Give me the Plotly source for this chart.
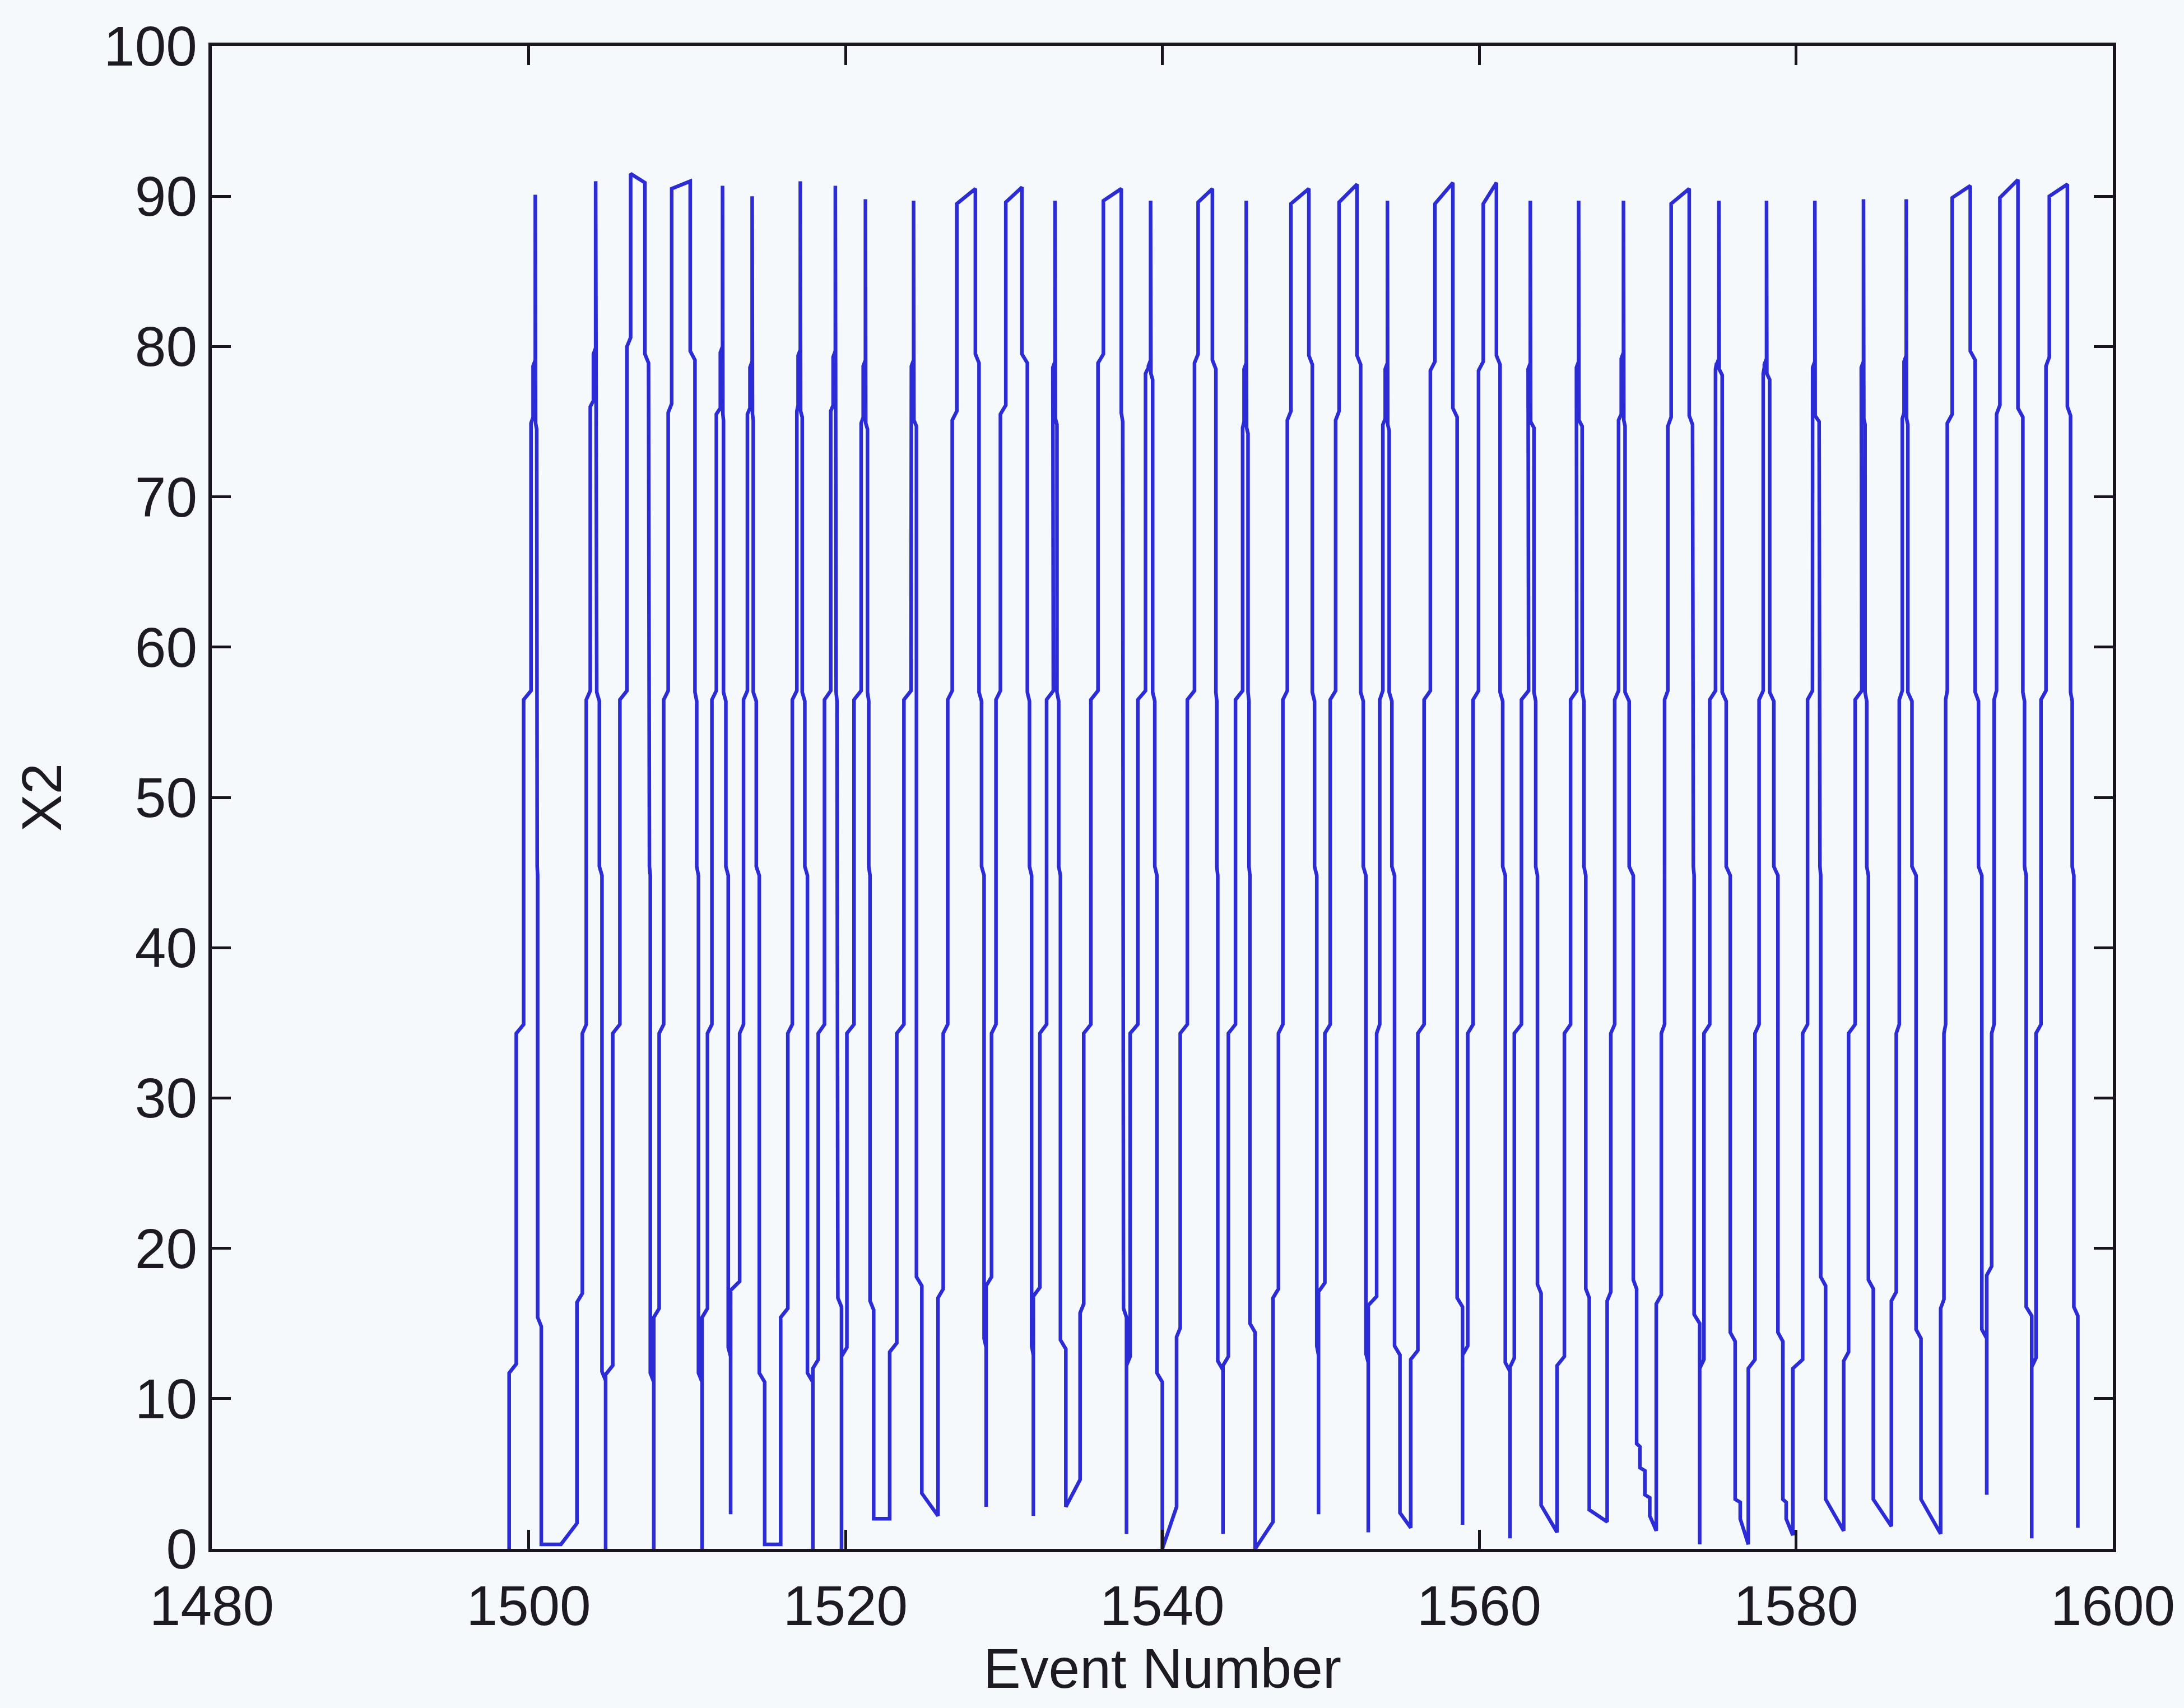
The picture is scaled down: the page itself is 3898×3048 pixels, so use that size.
import plotly.graph_objects as go

# ---------------- data ----------------
# pulse type: S = narrow spike, F = flat-top pulse
kind = ['S', 'S', 'F', 'F', 'S', 'S', 'S', 'S', 'S', 'S', 'F', 'F', 'S', 'F', 'S', 'F', 'S',
        'F', 'F', 'S', 'F', 'F', 'S', 'S', 'S', 'F', 'S', 'S', 'S', 'S', 'S', 'F', 'F', 'F']

# rising edge: level of first step and x of the segment above it
rise_jog = [11.7, 16.4, 11.6, 15.4, 15.4, 17.2, 15.4, 12.0, 12.8, 13.1, 16.7, 17.5, 16.8, 15.7, 12.2, 14.1, 12.2,
            16.7, 17.1, 16.2, 12.6, 12.9, 12.1, 12.2, 16.5, 16.3, 12.0, 12.0, 12.0, 12.5, 16.5, 16.0, 18.2, 12.1]
rise_b = [1499.22, 1503.39, 1505.31, 1508.24, 1511.29, 1513.32, 1516.36, 1518.28, 1520.09, 1523.24, 1526.17,
          1529.22, 1532.27, 1535.04, 1537.97, 1541.13, 1544.17, 1547.33, 1550.26, 1553.53, 1556.13, 1559.28,
          1562.22, 1565.38, 1568.31, 1571.50, 1574.19, 1577.41, 1580.42, 1583.32, 1586.33, 1589.34, 1592.35, 1595.15]
# x of the upper rising segment (57 -> ~75)
rise_hi = [1500.15, 1503.89, 1506.21, 1508.81, 1511.85, 1513.81, 1516.93, 1519.07, 1520.99, 1524.14, 1526.74,
           1529.78, 1533.12, 1535.94, 1538.94, 1542.03, 1545.07, 1547.89, 1550.94, 1553.92, 1556.92, 1559.96,
           1563.12, 1566.16, 1568.80, 1571.91, 1574.92, 1577.93, 1581.04, 1584.15, 1586.71, 1589.55, 1592.66, 1595.78]
# top of pulse: left/right x and values
top_l = [1500.42, 1504.23, 1506.44, 1509.03, 1512.24, 1514.11, 1517.15, 1519.36, 1521.26, 1524.30, 1527.03,
         1530.12, 1533.23, 1536.28, 1539.26, 1542.26, 1545.30, 1548.12, 1551.16, 1554.21, 1557.21, 1560.26,
         1563.23, 1566.28, 1569.11, 1572.12, 1575.13, 1578.14, 1581.19, 1584.26, 1586.96, 1589.86, 1592.87, 1595.99]
top_r = [1500.42, 1504.23, 1507.34, 1510.20, 1512.24, 1514.11, 1517.15, 1519.36, 1521.26, 1524.30, 1528.20,
         1531.14, 1533.23, 1537.41, 1539.26, 1543.16, 1545.30, 1549.25, 1552.29, 1554.21, 1558.34, 1561.09,
         1563.23, 1566.28, 1569.11, 1573.26, 1575.13, 1578.14, 1581.19, 1584.26, 1586.96, 1591.00, 1594.01, 1597.13]
top_lv = [90.1, 91.0, 91.5, 90.5, 90.7, 90.0, 91.0, 90.7, 89.8, 89.7, 89.5, 89.6, 89.7, 89.7, 89.7, 89.6, 89.7,
          89.5, 89.6, 89.7, 89.5, 89.5, 89.7, 89.7, 89.7, 89.5, 89.7, 89.7, 89.7, 89.8, 89.8, 89.9, 89.9, 90.0]
top_rv = [90.1, 91.0, 90.9, 91.0, 90.7, 90.0, 91.0, 90.7, 89.8, 89.7, 90.5, 90.6, 89.7, 90.5, 89.7, 90.5, 89.7,
          90.5, 90.8, 89.7, 90.9, 90.9, 89.7, 89.7, 89.7, 90.5, 89.7, 89.7, 89.7, 89.8, 89.8, 90.7, 91.1, 90.8]
# step levels near the top (rising side / falling side)
jog_r = [74.9, 76.0, 80.0, 75.6, 75.5, 75.5, 75.7, 75.7, 74.9, 75.1, 75.1, 75.5, 75.2, 78.9, 78.2, 78.9, 74.6,
         75.1, 75.1, 74.8, 78.4, 78.4, 75.0, 75.1, 75.1, 74.7, 78.5, 78.2, 75.4, 75.2, 75.2, 74.9, 75.5, 78.7]
jog_f = [78.7, 79.5, 79.5, 79.7, 79.6, 78.6, 79.4, 79.3, 78.7, 78.7, 79.5, 79.5, 78.6, 75.6, 78.7, 79.1, 78.5,
         79.4, 79.4, 78.5, 75.9, 79.4, 78.5, 78.6, 79.2, 75.4, 78.8, 78.8, 78.6, 78.6, 79.0, 79.7, 75.9, 76.0]
# falling edge: x of upper segment, x of lower segment, level of last step
fall_hi = [1500.51, 1504.30, 1507.57, 1510.50, 1512.30, 1514.18, 1517.27, 1519.41, 1521.39, 1524.48, 1528.43,
           1531.48, 1533.35, 1537.50, 1539.39, 1543.38, 1545.41, 1549.47, 1552.52, 1554.32, 1558.61, 1561.32,
           1563.46, 1566.50, 1569.21, 1573.47, 1575.34, 1578.34, 1581.46, 1584.36, 1587.06, 1591.31, 1594.32, 1597.33]
fall_b = [1500.57, 1504.63, 1507.68, 1510.72, 1512.60, 1514.56, 1517.60, 1519.52, 1521.55, 1524.48, 1528.75,
          1531.75, 1533.57, 1537.55, 1539.66, 1543.50, 1545.53, 1549.75, 1552.85, 1554.66, 1558.61, 1561.65,
          1563.68, 1566.73, 1569.73, 1573.57, 1575.85, 1578.86, 1581.56, 1584.57, 1587.58, 1591.73, 1594.53, 1597.54]
fall_jog = [15.4, 11.8, 11.7, 11.7, 13.4, 11.7, 11.7, 16.7, 16.5, 18.1, 14.0, 13.5, 13.9, 16.0, 11.7, 12.5, 15.0,
            13.5, 13.0, 13.5, 16.7, 12.4, 17.6, 17.3, 17.9, 15.6, 14.4, 14.4, 18.1, 17.9, 14.6, 14.6, 16.1, 16.1]
# valley bottoms (before pulse 1, then after each pulse)
valley_x = [[1498.77], [1500.80, 1502.04, 1503.05], [1504.86], [1507.90], [1510.95], [1512.75],
            [1514.90, 1515.91], [1517.94], [1519.75], [1521.78, 1522.79], [1524.82, 1525.84], [1528.88],
            [1531.86], [1533.91, 1534.81], [1537.74], [1540.00, 1540.90], [1543.83], [1545.86, 1546.99],
            [1549.86], [1553.00], [1555.00, 1555.68], [1558.95], [1561.95], [1563.91, 1564.92],
            [1566.95, 1568.08],
            [1569.94, 1570.15, 1570.15, 1570.46, 1570.46, 1570.77, 1570.77, 1571.18],
            [1573.92], [1576.16, 1576.48, 1576.48, 1576.99], [1579.17, 1579.38, 1579.38, 1579.80],
            [1581.87, 1583.01], [1584.88, 1586.02], [1587.89, 1589.13], [1592.04], [1594.88], [1597.79]]
valley_y = [[0.0], [0.3, 0.3, 1.7], [0.0], [0.0], [0.0], [2.3],
            [0.3, 0.3], [0.0], [0.0], [2.0, 2.0], [3.7, 2.2], [2.8],
            [2.2], [2.8, 4.6], [1.0], [0.0, 2.8], [1.0], [0.0, 1.8],
            [2.3], [1.1], [2.4, 1.4], [1.6], [0.7], [2.9, 1.1],
            [2.6, 1.8],
            [7.0, 6.8, 5.4, 5.2, 3.6, 3.4, 2.2, 1.2],
            [0.3], [3.3, 3.1, 2.0, 0.3], [3.3, 3.1, 2.0, 0.9],
            [3.3, 1.2], [3.3, 1.5], [3.3, 1.0], [3.6], [0.7], [1.4]]

x_ticks = [1480, 1500, 1520, 1540, 1560, 1580, 1600]
y_ticks = [0, 10, 20, 30, 40, 50, 60, 70, 80, 90, 100]

# ---------------- build the line path ----------------
xs, ys = [], []


def add(x, y):
    xs.append(x)
    ys.append(y)


for x, y in zip(valley_x[0], valley_y[0]):
    add(x, y)

for i in range(len(kind)):
    x0 = valley_x[i][-1]
    add(x0, rise_jog[i])
    add(rise_b[i], rise_jog[i] + 0.6)
    add(rise_b[i], 34.3)
    mid = (rise_b[i] + rise_hi[i]) / 2
    add(mid, 34.9)
    add(mid, 56.5)
    add(rise_hi[i], 57.1)
    add(rise_hi[i], jog_r[i])
    if kind[i] == 'F':
        add(top_l[i], jog_r[i] + 0.6)
        add(top_l[i], top_lv[i])
        add(top_r[i], top_rv[i])
        add(top_r[i], jog_f[i])
        add(fall_hi[i], jog_f[i] - 0.6)
    else:
        add(top_l[i] - 0.14, jog_r[i] + 0.4)
        add(top_l[i] - 0.14, jog_f[i])
        add(top_l[i], jog_f[i] + 0.4)
        add(top_l[i], top_lv[i])
        add(top_l[i] + 0.02, jog_f[i])
        add(top_l[i] + 0.02, jog_r[i])
        add(fall_hi[i], jog_r[i] - 0.4)
    add(fall_hi[i], 57.0)
    midf = (fall_hi[i] + fall_b[i]) / 2
    add(midf, 56.4)
    add(midf, 45.4)
    add(fall_b[i], 44.8)
    add(fall_b[i], fall_jog[i])
    vx, vy = valley_x[i + 1], valley_y[i + 1]
    add(vx[0], fall_jog[i] - 0.6)
    for x, y in zip(vx, vy):
        add(x, y)

fig = go.Figure()
fig.add_trace(go.Scatter(x=xs, y=ys, mode='lines',
                         line=dict(color='rgb(44,44,214)', width=6.5),
                         showlegend=False, hoverinfo='skip'))

axis_font = dict(family='Liberation Sans, Arial, sans-serif', size=100, color='#1e1a24')
common = dict(showgrid=False, zeroline=False, showline=True, linecolor='#1a1420', linewidth=6,
              mirror='ticks', ticks='inside', ticklen=34, tickwidth=5, tickcolor='#1a1420',
              tickfont=axis_font)

fig.update_xaxes(range=[1480, 1600], tickvals=x_ticks, ticktext=[str(v) for v in x_ticks],
                 ticklabelstandoff=10,
                 title=dict(text='Event Number', font=axis_font, standoff=18), **common)
fig.update_yaxes(range=[0, 100], tickvals=y_ticks, ticktext=[str(v) for v in y_ticks],
                 title=dict(text='X2', font=axis_font, standoff=44), **common)

fig.update_layout(width=3898, height=3048,
                  margin=dict(l=378, r=127, t=82, b=284, autoexpand=False),
                  paper_bgcolor='rgb(246,249,252)', plot_bgcolor='rgb(246,249,252)')

fig.write_html('out.html')
